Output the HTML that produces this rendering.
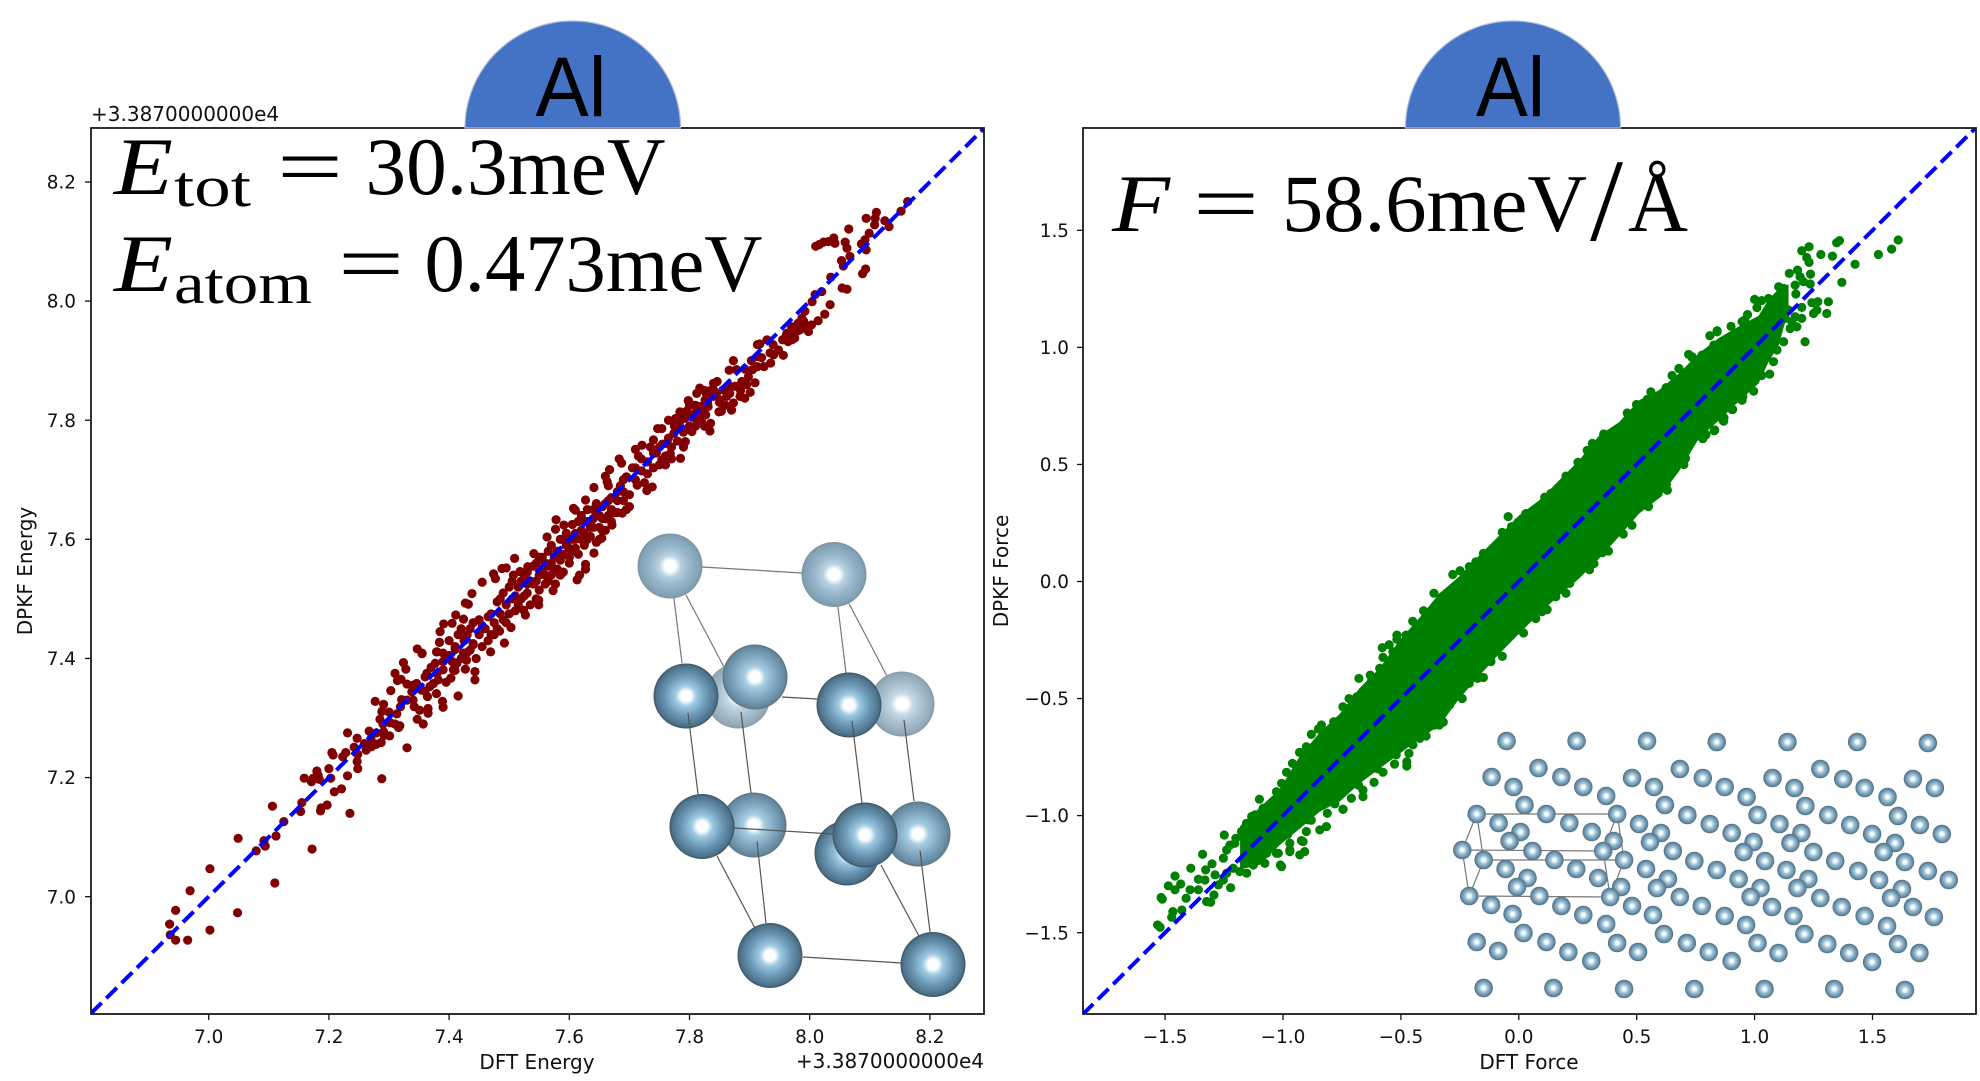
<!DOCTYPE html>
<html lang="en">
<head>
<meta charset="utf-8">
<title>Al DPKF vs DFT parity plots</title>
<style>
html,body{margin:0;padding:0;background:#fff}
svg{display:block}
.tick{font-family:"DejaVu Sans","Liberation Sans",sans-serif;font-size:18.4px;fill:#111}
.label{font-family:"DejaVu Sans","Liberation Sans",sans-serif;font-size:20px;fill:#111}
.offset{font-family:"DejaVu Sans","Liberation Sans",sans-serif;font-size:20px;fill:#111}
.math{font-family:"Liberation Serif",serif;fill:#000}
.al{font-family:"Liberation Sans",sans-serif;font-size:84px;fill:#000}
</style>
</head>
<body>
<svg id="figure" xmlns="http://www.w3.org/2000/svg" width="1980" height="1081" viewBox="0 0 1980 1081">
<defs>
<radialGradient id="atom-lightest"><stop offset="0" stop-color="#fff"/><stop offset=".17" stop-color="#fff"/><stop offset=".34" stop-color="#c6d9e4"/><stop offset=".62" stop-color="#a8c0cf"/><stop offset=".93" stop-color="#92a8b6"/><stop offset="1" stop-color="#87979f"/></radialGradient>
<radialGradient id="atom-light"><stop offset="0" stop-color="#fff"/><stop offset=".17" stop-color="#fff"/><stop offset=".34" stop-color="#b6d1e1"/><stop offset=".62" stop-color="#96b5c9"/><stop offset=".93" stop-color="#80a0b4"/><stop offset="1" stop-color="#7b919e"/></radialGradient>
<radialGradient id="atom-mid"><stop offset="0" stop-color="#fff"/><stop offset=".16" stop-color="#fff"/><stop offset=".32" stop-color="#a8cde1"/><stop offset=".62" stop-color="#83aac3"/><stop offset=".93" stop-color="#64879d"/><stop offset="1" stop-color="#5a7282"/></radialGradient>
<radialGradient id="atom-dark"><stop offset="0" stop-color="#fff"/><stop offset=".16" stop-color="#fff"/><stop offset=".32" stop-color="#9ecae2"/><stop offset=".62" stop-color="#6c9ab8"/><stop offset=".93" stop-color="#4c7188"/><stop offset="1" stop-color="#3a5160"/></radialGradient>
<radialGradient id="atom-small"><stop offset="0" stop-color="#fff"/><stop offset=".18" stop-color="#f6feff"/><stop offset=".38" stop-color="#a9cde0"/><stop offset=".72" stop-color="#7499b2"/><stop offset="1" stop-color="#4f6f83"/></radialGradient>
<clipPath id="clip-energy"><rect x="91" y="128" width="893" height="886"/></clipPath>
<clipPath id="clip-force"><rect x="1083" y="128" width="893" height="886"/></clipPath>
</defs>

<g id="energy-marks" clip-path="url(#clip-energy)"></g>
<g id="force-marks" clip-path="url(#clip-force)"></g>
<g id="axes-layer"></g>

<g>
<g stroke="#777" stroke-width="1.2" fill="none">
<path d="M702 567L802 573M672 583L682 663M686 595L724 667M836 591L846 673M849 603.5L888 678"/>
</g>
<circle cx="670" cy="566" r="32.5" fill="url(#atom-light)"/>
<circle cx="834" cy="574.5" r="32.5" fill="url(#atom-light)"/>
<circle cx="738" cy="696" r="32.5" fill="url(#atom-lightest)"/>
<circle cx="902" cy="704" r="32.5" fill="url(#atom-lightest)"/>
<circle cx="686" cy="696" r="32.5" fill="url(#atom-dark)"/>
<circle cx="755" cy="677" r="32.5" fill="url(#atom-mid)"/>
<circle cx="849" cy="705" r="32.5" fill="url(#atom-dark)"/>
<circle cx="754" cy="825" r="32.5" fill="url(#atom-mid)"/>
<circle cx="918" cy="834" r="32.5" fill="url(#atom-mid)"/>
<circle cx="847" cy="853" r="32.5" fill="url(#atom-dark)"/>
<g stroke="#555" stroke-width="1.2" fill="none">
<path d="M688 713L698 794M741 712L751 793M782 697L817 699M852 721L862 803M904 720L914 801M734 828L833 834M757 841.5L766 923M717 856L756 930M881 865L920 938M920 850.5L930 932M803 957L902 963"/>
</g>
<circle cx="702" cy="826.5" r="32.5" fill="url(#atom-dark)"/>
<circle cx="865" cy="835" r="32.5" fill="url(#atom-dark)"/>
<circle cx="770" cy="955.5" r="32.5" fill="url(#atom-dark)"/>
<circle cx="933" cy="964.5" r="32.5" fill="url(#atom-dark)"/>
</g>

<g transform="translate(5.6 0) scale(.996 1)">
<g stroke="#777" stroke-width="1.2" fill="none">
<path d="M1477 814L1618 814M1462.5 850L1604 851M1484 860L1625 860M1469.5 896L1611 897M1477 814L1462.5 850M1477 814L1484 860M1462.5 850L1469.5 896M1484 860L1469.5 896M1618 814L1604 851M1618 814L1625 860M1604 851L1611 897M1625 860L1611 897"/>
</g>
<g fill="url(#atom-small)">
<circle cx="1507" cy="741" r="9.3"/><circle cx="1577.3" cy="741" r="9.3"/><circle cx="1648" cy="741" r="9.3"/><circle cx="1718" cy="742" r="9.3"/><circle cx="1789" cy="742" r="9.3"/><circle cx="1859" cy="742" r="9.3"/><circle cx="1930" cy="743" r="9.3"/>
<circle cx="1484" cy="988" r="9.3"/><circle cx="1554" cy="988" r="9.3"/><circle cx="1625" cy="989" r="9.3"/><circle cx="1695.5" cy="989" r="9.3"/><circle cx="1766" cy="989" r="9.3"/><circle cx="1836" cy="989" r="9.3"/><circle cx="1907" cy="990" r="9.3"/>
<circle cx="1492" cy="777" r="9.3"/><circle cx="1514" cy="787" r="9.3"/><circle cx="1539" cy="768" r="9.3"/><circle cx="1562" cy="777" r="9.3"/><circle cx="1584" cy="787" r="9.3"/><circle cx="1607" cy="796" r="9.3"/><circle cx="1525" cy="805" r="9.3"/><circle cx="1633" cy="778" r="9.3"/><circle cx="1655" cy="787" r="9.3"/><circle cx="1681" cy="769" r="9.3"/><circle cx="1704" cy="778" r="9.3"/><circle cx="1726" cy="787" r="9.3"/><circle cx="1748" cy="797" r="9.3"/><circle cx="1774" cy="778" r="9.3"/><circle cx="1796" cy="788" r="9.3"/><circle cx="1822" cy="769" r="9.3"/><circle cx="1845" cy="779" r="9.3"/><circle cx="1866.5" cy="788" r="9.3"/><circle cx="1889.5" cy="797" r="9.3"/><circle cx="1915" cy="779" r="9.3"/><circle cx="1937" cy="788" r="9.3"/>
<circle cx="1521" cy="832" r="9.3"/><circle cx="1614.5" cy="841" r="9.3"/><circle cx="1662" cy="833" r="9.3"/><circle cx="1755" cy="842" r="9.3"/><circle cx="1803" cy="833" r="9.3"/><circle cx="1897" cy="843" r="9.3"/>
<circle cx="1477" cy="814" r="9.3"/><circle cx="1499" cy="823" r="9.3"/><circle cx="1547" cy="814" r="9.3"/><circle cx="1570" cy="823" r="9.3"/><circle cx="1592.5" cy="832" r="9.3"/><circle cx="1618" cy="814" r="9.3"/><circle cx="1640" cy="824" r="9.3"/><circle cx="1666" cy="805" r="9.3"/><circle cx="1688.5" cy="815" r="9.3"/><circle cx="1711" cy="824" r="9.3"/><circle cx="1733" cy="833" r="9.3"/><circle cx="1759" cy="815" r="9.3"/><circle cx="1781" cy="824" r="9.3"/><circle cx="1807" cy="806" r="9.3"/><circle cx="1830" cy="815" r="9.3"/><circle cx="1852" cy="825" r="9.3"/><circle cx="1874" cy="834" r="9.3"/><circle cx="1900" cy="816" r="9.3"/><circle cx="1922" cy="825" r="9.3"/><circle cx="1944" cy="834" r="9.3"/>
<circle cx="1510" cy="841" r="9.3"/><circle cx="1462.5" cy="850" r="9.3"/><circle cx="1533" cy="851" r="9.3"/><circle cx="1604" cy="851" r="9.3"/><circle cx="1651" cy="842" r="9.3"/><circle cx="1674" cy="851" r="9.3"/><circle cx="1745" cy="852" r="9.3"/><circle cx="1792" cy="843" r="9.3"/><circle cx="1815" cy="852" r="9.3"/><circle cx="1885.5" cy="852" r="9.3"/>
<circle cx="1484" cy="860" r="9.3"/><circle cx="1555" cy="860" r="9.3"/><circle cx="1625" cy="860" r="9.3"/><circle cx="1695.5" cy="861" r="9.3"/><circle cx="1766.5" cy="861" r="9.3"/><circle cx="1837" cy="861" r="9.3"/><circle cx="1907" cy="862" r="9.3"/>
<circle cx="1506" cy="869" r="9.3"/><circle cx="1577" cy="869" r="9.3"/><circle cx="1599" cy="878" r="9.3"/><circle cx="1647" cy="869" r="9.3"/><circle cx="1718" cy="870" r="9.3"/><circle cx="1740" cy="879" r="9.3"/><circle cx="1788" cy="870" r="9.3"/><circle cx="1860" cy="871" r="9.3"/><circle cx="1881" cy="880" r="9.3"/><circle cx="1930" cy="871" r="9.3"/><circle cx="1951" cy="880" r="9.3"/>
<circle cx="1528" cy="878" r="9.3"/><circle cx="1622" cy="887" r="9.3"/><circle cx="1669" cy="879" r="9.3"/><circle cx="1762" cy="888" r="9.3"/><circle cx="1810" cy="879" r="9.3"/><circle cx="1904" cy="889" r="9.3"/>
<circle cx="1517.5" cy="887" r="9.3"/><circle cx="1469.5" cy="896" r="9.3"/><circle cx="1540" cy="896" r="9.3"/><circle cx="1611" cy="897" r="9.3"/><circle cx="1658" cy="888" r="9.3"/><circle cx="1681" cy="897" r="9.3"/><circle cx="1752" cy="897" r="9.3"/><circle cx="1799" cy="888" r="9.3"/><circle cx="1822" cy="898" r="9.3"/><circle cx="1893" cy="898" r="9.3"/>
<circle cx="1491.5" cy="905" r="9.3"/><circle cx="1513" cy="914" r="9.3"/><circle cx="1562" cy="906" r="9.3"/><circle cx="1584" cy="915" r="9.3"/><circle cx="1607" cy="924" r="9.3"/><circle cx="1633" cy="906" r="9.3"/><circle cx="1654" cy="915" r="9.3"/><circle cx="1703" cy="906" r="9.3"/><circle cx="1726" cy="916" r="9.3"/><circle cx="1747.5" cy="925" r="9.3"/><circle cx="1773.5" cy="907" r="9.3"/><circle cx="1795" cy="916" r="9.3"/><circle cx="1843.5" cy="907" r="9.3"/><circle cx="1866.5" cy="916" r="9.3"/><circle cx="1889" cy="926" r="9.3"/><circle cx="1915" cy="907" r="9.3"/><circle cx="1936" cy="917" r="9.3"/>
<circle cx="1524" cy="933" r="9.3"/><circle cx="1477" cy="942" r="9.3"/><circle cx="1498.5" cy="951" r="9.3"/><circle cx="1547" cy="942" r="9.3"/><circle cx="1569" cy="952" r="9.3"/><circle cx="1592" cy="961" r="9.3"/><circle cx="1618" cy="943" r="9.3"/><circle cx="1639" cy="952" r="9.3"/><circle cx="1665" cy="934" r="9.3"/><circle cx="1688" cy="943" r="9.3"/><circle cx="1710" cy="952" r="9.3"/><circle cx="1733" cy="961" r="9.3"/><circle cx="1759" cy="943" r="9.3"/><circle cx="1780" cy="953" r="9.3"/><circle cx="1806" cy="934" r="9.3"/><circle cx="1829" cy="944" r="9.3"/><circle cx="1851" cy="953" r="9.3"/><circle cx="1874" cy="962" r="9.3"/><circle cx="1900" cy="944" r="9.3"/><circle cx="1921.5" cy="953" r="9.3"/>
</g>
</g>

<g>
<path d="M465 128A107.75 107 0 0 1 680.5 128Z" fill="#4472c4" stroke="#aab9d9" stroke-width="1.2"/>
<text class="al" x="535.5" y="116" textLength="71" lengthAdjust="spacingAndGlyphs">Al</text>
</g>
<g>
<path d="M1405.5 128A107.5 107 0 0 1 1620.5 128Z" fill="#4472c4" stroke="#aab9d9" stroke-width="1.2"/>
<text class="al" x="1476" y="116" textLength="69" lengthAdjust="spacingAndGlyphs">Al</text>
</g>

<g class="math">
<text x="114" y="194" font-size="82" font-style="italic" textLength="59" lengthAdjust="spacingAndGlyphs">E</text>
<text x="174" y="206" font-size="58" textLength="77" lengthAdjust="spacingAndGlyphs">tot</text>
<text x="277" y="194" font-size="82" textLength="66" lengthAdjust="spacingAndGlyphs">=</text>
<text x="365.5" y="194" font-size="82" textLength="300" lengthAdjust="spacingAndGlyphs">30.3meV</text>
<text x="114" y="291" font-size="82" font-style="italic" textLength="59" lengthAdjust="spacingAndGlyphs">E</text>
<text x="174" y="303" font-size="58" textLength="138" lengthAdjust="spacingAndGlyphs">atom</text>
<text x="338" y="291" font-size="82" textLength="66" lengthAdjust="spacingAndGlyphs">=</text>
<text x="424.5" y="291" font-size="82" textLength="338" lengthAdjust="spacingAndGlyphs">0.473meV</text>
</g>
<g class="math">
<text x="1112" y="231" font-size="82" font-style="italic" textLength="58" lengthAdjust="spacingAndGlyphs">F</text>
<text x="1193" y="231" font-size="82" textLength="66" lengthAdjust="spacingAndGlyphs">=</text>
<text x="1282" y="231" font-size="82" textLength="305" lengthAdjust="spacingAndGlyphs">58.6meV</text>
<text x="1590" y="240" font-size="118" textLength="33" lengthAdjust="spacingAndGlyphs">/</text>
<text x="1628" y="231" font-size="86" textLength="60" lengthAdjust="spacingAndGlyphs">Å</text>
</g>
</svg>

<script>
const energyLimits = [6.804, 8.29];
const energyTicks = [7.0, 7.2, 7.4, 7.6, 7.8, 8.0, 8.2];
const energyTickLabels = ["7.0", "7.2", "7.4", "7.6", "7.8", "8.0", "8.2"];
const energyPoints = [
[6.945,6.977],[6.935,6.954],[6.936,6.936],[6.945,6.927],[6.965,6.927],[7.002,6.944],[7.048,6.973],
[6.969,7.010],[7.002,7.047],[7.110,7.023],[7.049,7.098],[7.079,7.077],[7.092,7.094],[7.094,7.085],[7.112,7.102],[7.125,7.126],[7.172,7.080],[7.106,7.152],[7.153,7.143],[7.155,7.158],[7.186,7.144],[7.187,7.149],[7.197,7.154],[7.235,7.140],[7.209,7.176],[7.221,7.181],[7.231,7.203],[7.288,7.198],[7.159,7.199],[7.171,7.193],[7.174,7.199],[7.180,7.211],[7.184,7.197],[7.182,7.204],[7.203,7.199],[7.200,7.215],[7.205,7.242],[7.207,7.238],[7.223,7.235],[7.228,7.242],[7.248,7.215],[7.247,7.227],[7.248,7.239],[7.242,7.251],[7.231,7.275],[7.247,7.266],[7.262,7.246],[7.271,7.252],[7.287,7.259],[7.259,7.257],[7.279,7.256],[7.330,7.250],[7.267,7.278],[7.279,7.275],[7.291,7.277],[7.301,7.270],[7.292,7.271],[7.316,7.284],[7.318,7.287],[7.285,7.298],[7.288,7.311],[7.302,7.292],[7.313,7.307],[7.277,7.328],[7.291,7.323],[7.303,7.346],[7.321,7.331],[7.319,7.319],[7.342,7.319],[7.351,7.313],[7.365,7.316],[7.365,7.308],[7.347,7.298],[7.357,7.290],[7.390,7.318],[7.389,7.328],[7.415,7.337],[7.379,7.341],[7.364,7.336],[7.340,7.330],[7.338,7.344],[7.354,7.347],[7.346,7.358],[7.360,7.369],[7.368,7.353],[7.382,7.364],[7.310,7.375],[7.314,7.363],[7.320,7.365],[7.330,7.357],[7.324,7.393],[7.328,7.382],[7.377,7.392],[7.390,7.381],[7.403,7.367],[7.407,7.381],[7.427,7.382],[7.443,7.364],[7.443,7.378],[7.347,7.416],[7.355,7.409],[7.379,7.411],[7.390,7.409],[7.384,7.427],[7.413,7.392],[7.429,7.397],[7.410,7.420],[7.435,7.414],[7.424,7.409],[7.440,7.423],[7.363,7.375],[7.374,7.358],
[7.355,7.408],[7.391,7.458],[7.385,7.445],[7.405,7.459],[7.411,7.473],[7.424,7.466],[7.384,7.427],[7.380,7.411],[7.469,7.411],[7.492,7.426],[7.484,7.446],[7.503,7.452],[7.455,7.528],[7.438,7.509],[7.427,7.493],[7.432,7.491],[7.474,7.542],[7.477,7.534],[7.488,7.551],[7.495,7.552],[7.509,7.568],[7.531,7.554],[7.541,7.576],[7.518,7.546],[7.507,7.540],[7.549,7.490],[7.549,7.498],[7.527,7.473],[7.524,7.481],[7.573,7.514],[7.577,7.525],[7.613,7.532],[7.617,7.540],[7.627,7.558],[7.627,7.550],[7.641,7.577],[7.654,7.602],[7.563,7.604],[7.577,7.617],[7.578,7.633],[7.591,7.624],[7.607,7.652],[7.610,7.649],[7.627,7.666],[7.641,7.687],[7.660,7.706],[7.663,7.697],[7.667,7.717],[7.683,7.735],[7.687,7.728],[7.729,7.682],[7.738,7.688],[7.713,7.691],[7.688,7.644],[7.671,7.624],[7.710,7.751],[7.721,7.758],[7.740,7.767],[7.747,7.786],[7.754,7.786],[7.765,7.800],[7.777,7.803],[7.793,7.803],[7.784,7.814],[7.785,7.736],[7.793,7.764],[7.768,7.744],[7.754,7.733],[7.763,7.761],[7.834,7.782],[7.835,7.795],[7.799,7.831],[7.849,7.814],[7.774,7.778],[7.804,7.781],[7.813,7.795],[7.827,7.809],
[7.40,7.43],[7.405,7.395],[7.41,7.415],[7.415,7.44],[7.42,7.40],[7.425,7.43],[7.43,7.41],[7.435,7.45],[7.44,7.425],[7.445,7.40],[7.45,7.44],[7.45,7.465],[7.455,7.42],[7.46,7.45],[7.465,7.43],[7.47,7.475],[7.47,7.44],[7.475,7.46],[7.48,7.495],[7.48,7.45],[7.485,7.475],[7.49,7.51],[7.49,7.465],[7.495,7.49],[7.50,7.52],[7.50,7.475],[7.505,7.50],[7.51,7.48],[7.515,7.52],[7.52,7.50],[7.525,7.535],[7.53,7.51],[7.535,7.49],[7.54,7.525],[7.54,7.555],[7.545,7.50],[7.55,7.54],[7.555,7.57],[7.56,7.525],[7.565,7.555],[7.57,7.59],[7.57,7.54],[7.575,7.57],[7.58,7.55],[7.585,7.60],[7.59,7.575],[7.59,7.545],[7.595,7.61],[7.60,7.585],[7.60,7.56],[7.605,7.625],[7.61,7.60],[7.615,7.575],[7.62,7.64],[7.62,7.615],[7.625,7.59],[7.63,7.63],[7.635,7.605],[7.64,7.65],[7.64,7.62],[7.645,7.595],[7.65,7.64],[7.655,7.615],[7.66,7.66],[7.66,7.635],[7.665,7.69],[7.67,7.65],[7.675,7.67],[7.68,7.645],[7.685,7.69],[7.69,7.665],[7.695,7.705],[7.70,7.675],[7.705,7.72],[7.71,7.70],[7.715,7.74],[7.72,7.715],[7.725,7.695],[7.73,7.73],[7.735,7.755],[7.74,7.72],[7.745,7.745],[7.75,7.725],[7.755,7.76],[7.76,7.74],[7.765,7.77],[7.77,7.755],[7.775,7.79],[7.78,7.765],[7.785,7.80],[7.79,7.78],[7.795,7.815],[7.80,7.79],[7.805,7.805],[7.81,7.825],[7.815,7.80],[7.82,7.82],[7.825,7.79],
[7.52,7.53],[7.53,7.545],[7.535,7.53],[7.545,7.53],[7.55,7.515],[7.555,7.545],[7.56,7.56],[7.565,7.53],[7.575,7.55],[7.58,7.58],[7.585,7.565],[7.595,7.59],[7.605,7.58],[7.61,7.61],[7.615,7.63],[7.625,7.61],[7.63,7.60],[7.64,7.635],[7.65,7.62],[7.655,7.655],[7.665,7.64],[7.67,7.67],[7.68,7.665],[7.69,7.68],[7.70,7.655],
[7.43,7.44],[7.44,7.46],[7.455,7.455],[7.465,7.47],[7.475,7.44],[7.485,7.50],[7.495,7.46],[7.505,7.53],[7.51,7.505],[7.515,7.49],[7.525,7.505],[7.53,7.525],[7.545,7.56],[7.55,7.57],[7.56,7.54],[7.565,7.58],[7.57,7.56],[7.58,7.57],[7.585,7.54],[7.59,7.60],[7.60,7.57],[7.605,7.60],[7.61,7.585],[7.62,7.60],[7.625,7.63],[7.63,7.65],[7.635,7.62],[7.645,7.66],[7.65,7.60],[7.655,7.635],[7.66,7.615],[7.665,7.665],[7.67,7.63],[7.675,7.645],[7.68,7.68],[7.69,7.70],[7.695,7.65],[7.71,7.72],[7.72,7.735],[7.73,7.71],[7.74,7.745],[7.75,7.755],[7.76,7.725],[7.77,7.735],[7.78,7.79],[7.79,7.755],[7.80,7.825],[7.81,7.79],[7.82,7.80],[7.83,7.83],[7.35,7.35],[7.36,7.345],[7.37,7.385],[7.38,7.375],[7.39,7.395],[7.40,7.405],[7.395,7.36],[7.42,7.45],[7.41,7.38],[7.33,7.33],[7.34,7.355],[7.30,7.31],[7.31,7.29],[7.29,7.29],[7.27,7.265],[7.885,7.85],[7.895,7.86],[7.905,7.885],[7.92,7.905],[7.94,7.91],[7.955,7.935],[7.97,7.935],[7.98,7.95],[7.99,7.955],[7.96,7.94],[7.85,7.83],[7.86,7.825],[7.845,7.845],[7.835,7.85],[7.825,7.85],
[8.163,8.167],[8.152,8.151],[8.111,8.149],[8.094,8.139],[8.109,8.139],[8.108,8.128],[8.125,8.135],[8.132,8.125],[8.065,8.121],[8.099,8.114],[8.092,8.103],[8.086,8.096],[8.094,8.086],[8.040,8.106],[8.031,8.100],[8.023,8.099],[8.016,8.095],[8.010,8.092],[8.042,8.097],[8.059,8.099],[8.062,8.089],[8.067,8.075],[8.053,8.068],[8.056,8.059],[8.093,8.054],[8.088,8.046],[8.035,8.040],[8.054,8.022],[8.062,8.020],[8.020,8.016],[8.009,8.011],[8.004,7.999],[8.034,7.994],[8.025,7.978],[7.992,7.983],[8.014,7.967],[8.003,7.960],[7.990,7.966],[7.981,7.963],[7.998,7.949],[7.970,7.957],[7.973,7.949],[7.962,7.946],[7.975,7.938],[7.964,7.932],[7.987,7.971],[7.984,7.952],[7.956,7.909],[7.939,7.927],[7.929,7.935],[7.913,7.927],[7.917,7.928],[7.948,7.918],[7.934,7.913],[7.935,7.896],[7.924,7.890],[7.913,7.890],[7.914,7.907],[7.903,7.900],[7.873,7.900],[7.866,7.884],[7.892,7.886],[7.878,7.885],[7.898,7.873],[7.909,7.863],[7.887,7.865],[7.876,7.857],[7.867,7.845],[7.901,7.847],[7.892,7.837],[7.884,7.840],[7.873,7.829],[7.870,7.817],[7.853,7.815],[7.840,7.862],[7.846,7.865],[7.817,7.854],[7.812,7.845],[7.798,7.833],[7.856,7.851],[7.840,7.840],[7.826,7.834],[7.851,7.834],[7.862,7.840],[7.831,7.823],[7.817,7.823],[7.823,7.809],[7.809,7.812],[7.790,7.803],[7.840,7.851],[7.828,7.845],[7.867,7.857]
];

const forceLimits = [-1.85, 1.94];
const forceTicks = [-1.5, -1.0, -0.5, 0.0, 0.5, 1.0, 1.5];
const forceTickLabels = ["\u22121.5", "\u22121.0", "\u22120.5", "0.0", "0.5", "1.0", "1.5"];
const forceBandDft = [-1.182,-1.098,-1.013,-0.928,-0.844,-0.759,-0.675,-0.590,-0.505,-0.421,-0.336,-0.252,-0.167,-0.082,0.002,0.087,0.171,0.256,0.341,0.425,0.510,0.594,0.679,0.764,0.848,0.933,1.017,1.060,1.102,1.144];
const forceBandUpper = [-1.045,-0.965,-0.885,-0.745,-0.645,-0.565,-0.455,-0.37,-0.25,-0.155,-0.05,0.022,0.112,0.197,0.283,0.347,0.432,0.518,0.624,0.68,0.774,0.817,0.889,0.975,1.04,1.09,1.135,1.205,1.25,1.27];
const forceBandLower = [-1.23,-1.21,-1.125,-1.055,-0.983,-0.94,-0.863,-0.799,-0.735,-0.671,-0.615,-0.50,-0.402,-0.308,-0.222,-0.137,-0.06,0.013,0.098,0.192,0.29,0.355,0.47,0.611,0.688,0.769,0.846,0.94,1.008,1.16];
const forcePoints = [
[-1.517,-1.350],[-1.512,-1.357],[-1.532,-1.467],[-1.521,-1.477],[-1.486,-1.300],[-1.458,-1.258],[-1.458,-1.317],[-1.434,-1.292],[-1.391,-1.225],[-1.341,-1.165],[-1.301,-1.206],[-1.249,-1.083],[-1.467,-1.410],[-1.472,-1.434],[-1.429,-1.403],[-1.411,-1.353],[-1.394,-1.317],[-1.359,-1.272],[-1.328,-1.232],[-1.359,-1.317],[-1.324,-1.367],[-1.307,-1.370],[-1.293,-1.339],[-1.331,-1.275],[-1.288,-1.253],[-1.274,-1.296],[-1.253,-1.275],[-1.222,-1.308],[-1.239,-1.246],[-1.253,-1.182],[-1.239,-1.147],[-1.211,-1.225],[-1.183,-1.239],[-1.154,-1.246],[-1.126,-1.211],[-1.077,-1.204],[-1.011,-1.211],[-1.070,-1.161],[-1.020,-1.161],[-0.971,-1.154],[-0.929,-1.168],[-0.908,-1.154],[-0.844,-1.061],[-0.816,-1.047],[-0.812,-0.990],[-0.745,-0.973],[-1.168,-1.189],[-1.204,-1.118],[-1.176,-1.068],[-1.133,-1.004],[-1.084,-0.969],[-0.915,-1.111],[-0.971,-1.118],[-1.042,-1.118],[-1.098,-1.132],[-1.126,-1.175],[-0.901,-1.068],[-0.894,-1.018],
[-1.006,-1.218],[-1.028,-1.161],[-0.971,-1.147],[-0.922,-1.107],[-0.746,-0.973],[-0.710,-0.926],[-0.661,-0.891],[-0.661,-0.919],[-0.614,-0.858],[-0.576,-0.815],[-0.527,-0.780],[-0.475,-0.788],[-0.475,-0.770],[-0.466,-0.734],[-0.449,-0.698],[-0.393,-0.660],[-0.499,-0.706],[-0.337,-0.613],
[-1.200,-1.097],[-1.225,-1.126],[-1.006,-0.862],[-0.985,-0.815],[-0.960,-0.777],[-0.901,-0.706],[-0.880,-0.653],[-0.837,-0.613],[-0.785,-0.599],[-0.746,-0.535],[-0.678,-0.414],[-0.686,-0.492],[-0.626,-0.428],[-0.590,-0.371],[-0.576,-0.324],[-0.579,-0.283],[-0.534,-0.300],[-0.517,-0.229],[-0.517,-0.247],[-0.478,-0.229],[-0.428,-0.186],[-0.404,-0.125],[-1.028,-0.898],[-1.084,-0.969],[-1.119,-0.997],[-1.155,-1.033],
[-0.118,-0.342],[-0.210,-0.435],[-0.175,-0.414],[-0.294,-0.528],[-0.259,-0.478],[-0.358,-0.613],
[-0.325,-0.065],[-0.249,0.046],[-0.210,0.063],[-0.182,0.084],[-0.111,0.134],[-0.045,0.277],[-0.031,0.234],[-0.001,0.255],[0.072,0.305],[0.136,0.376],[0.164,0.398],[0.227,0.459],[0.251,0.509],[0.312,0.590],[0.397,0.635],[0.439,0.661],[0.499,0.756],[0.545,0.778],[0.594,0.789],[0.626,0.828],[0.667,0.853],[0.679,0.910],[0.735,0.957],[0.784,0.967],[0.841,1.067],
[0.072,-0.158],[0.098,-0.129],[0.157,-0.065],[0.216,-0.008],[0.319,0.077],[0.354,0.123],[0.443,0.203],[0.467,0.262],[0.590,0.376],[0.626,0.415],[0.707,0.526],[0.794,0.628],[0.831,0.647],[0.866,0.687],[0.904,0.735],[0.946,0.775],
[-1.10,-0.93],[-0.93,-0.73],[-0.85,-0.63],[-0.72,-0.50],[-0.63,-0.40],[-0.55,-0.27],[-0.45,-0.17],[-0.36,-0.05],[-0.28,0.03],[-0.15,0.12],[-0.07,0.21],[0.03,0.29],[0.11,0.36],[0.20,0.45],[0.29,0.56],[0.36,0.63],[0.46,0.72],[0.56,0.81],[0.65,0.88],[0.72,0.97],[0.81,1.05],[0.90,1.09],[0.97,1.14],[1.03,1.20],
[-0.98,-1.08],[-0.88,-1.02],[-0.78,-0.95],[-0.68,-0.87],[-0.60,-0.80],[-0.52,-0.74],[-0.42,-0.67],[-0.32,-0.60],[-0.24,-0.50],[-0.15,-0.41],[-0.07,-0.32],[0.02,-0.22],[0.12,-0.12],[0.20,-0.05],[0.30,0.05],[0.38,0.13],[0.48,0.24],[0.55,0.32],[0.63,0.39],[0.70,0.50],[0.78,0.61],[0.87,0.70],[0.95,0.79],[1.03,0.88],
[1.360,1.456],[1.348,1.447],[1.231,1.430],[1.200,1.413],[1.281,1.397],[1.330,1.390],[1.221,1.384],[1.231,1.363],[1.147,1.316],[1.182,1.330],[1.193,1.302],[1.237,1.313],[1.426,1.355],[1.525,1.397],[1.581,1.420],[1.609,1.459],[1.370,1.278],[1.172,1.266],[1.207,1.281],[1.236,1.271],[1.175,1.228],[1.123,1.252],[1.102,1.259],[1.059,1.209],[1.000,1.205],[1.010,1.170],[0.958,1.117],[0.947,1.110],[0.841,1.071],[0.735,0.960],[0.679,0.910],[0.625,0.828],[0.665,0.853],[1.214,1.024],[1.080,0.939],[1.064,0.886],[0.996,0.813],[0.947,0.775],[0.907,0.735],[0.869,0.685],[0.829,0.644],[0.791,0.625],[1.313,1.195],[1.306,1.145],[1.268,1.195],[1.243,1.191],[1.250,1.145],[1.264,1.159],[1.200,1.171],[1.200,1.124],[1.172,1.131],[1.179,1.088],[1.151,1.081],[1.123,1.024],[1.095,0.989],[1.102,1.088],[1.144,1.160],[1.080,1.102],[1.130,1.124],[1.158,1.110],[1.088,1.160],[1.115,1.202],[1.066,1.145],[1.017,1.103],[0.975,1.074],[0.925,1.060],[0.883,1.031],[0.827,1.010],[0.777,0.967]
];

const energyXLabel = "DFT Energy";
const energyYLabel = "DPKF Energy";
const forceXLabel = "DFT Force";
const forceYLabel = "DPKF Force";
const energyOffsetLabel = "+3.3870000000e4";

const NS = "http://www.w3.org/2000/svg";
function energyX(v) { return 208.7 + (v - 7) * 601; }
function energyY(v) { return 896.7 - (v - 7) * 595.6; }
function forceX(v) { return 1518.8 + v * 235.8; }
function forceY(v) { return 581.5 - v * 234.1; }

function make(parent, tag, attrs, text) {
  const el = document.createElementNS(NS, tag);
  for (const k in attrs) el.setAttribute(k, attrs[k]);
  if (text !== undefined) el.textContent = text;
  parent.appendChild(el);
  return el;
}

const energyMarks = document.getElementById("energy-marks");
const forceMarks = document.getElementById("force-marks");
const axesLayer = document.getElementById("axes-layer");

energyPoints.forEach(function (p) {
  const el = make(energyMarks, "circle", { cx: energyX(p[0]), cy: energyY(p[1]), r: 4.6, fill: "#800000" });
  
  
});
const energyLine = make(energyMarks, "line", {
  x1: energyX(energyLimits[0]), y1: energyY(energyLimits[0]),
  x2: energyX(energyLimits[1]), y2: energyY(energyLimits[1]),
  stroke: "#0000ff", "stroke-width": 4, "stroke-dasharray": "15 6.6"
});



const upperEdge = forceBandDft.map(function (d, i) { return forceX(d) + "," + forceY(forceBandUpper[i]); });
const lowerEdge = forceBandDft.map(function (d, i) { return forceX(d) + "," + forceY(forceBandLower[i]); }).reverse();
const forceBand = make(forceMarks, "polygon", { points: upperEdge.concat(lowerEdge).join(" "), fill: "#008000" });


forcePoints.forEach(function (p) {
  const el = make(forceMarks, "circle", { cx: forceX(p[0]), cy: forceY(p[1]), r: 4.6, fill: "#008000" });
  
  
});
const forceLine = make(forceMarks, "line", {
  x1: forceX(forceLimits[0]), y1: forceY(forceLimits[0]),
  x2: forceX(forceLimits[1]), y2: forceY(forceLimits[1]),
  stroke: "#0000ff", "stroke-width": 4, "stroke-dasharray": "15 6.6"
});



const energyFrame = make(axesLayer, "rect", { x: 91, y: 128, width: 893, height: 886, fill: "none", stroke: "#1a1a1a", "stroke-width": 1.8 });


const forceFrame = make(axesLayer, "rect", { x: 1083, y: 128, width: 893, height: 886, fill: "none", stroke: "#1a1a1a", "stroke-width": 1.8 });



energyTicks.forEach(function (t, i) {
  const xt = make(axesLayer, "line", { x1: energyX(t), x2: energyX(t), y1: 1014, y2: 1020, stroke: "#111", "stroke-width": 1.3 });
  
  
  const xl = make(axesLayer, "text", { x: energyX(t), y: 1043, "text-anchor": "middle", class: "tick" }, energyTickLabels[i]);
  
  
  const yt = make(axesLayer, "line", { x1: 85, x2: 91, y1: energyY(t), y2: energyY(t), stroke: "#111", "stroke-width": 1.3 });
  
  
  const yl = make(axesLayer, "text", { x: 76, y: energyY(t) + 6.6, "text-anchor": "end", class: "tick" }, energyTickLabels[i]);
  
  
});

forceTicks.forEach(function (t, i) {
  const xt = make(axesLayer, "line", { x1: forceX(t), x2: forceX(t), y1: 1014, y2: 1020, stroke: "#111", "stroke-width": 1.3 });
  
  
  const xl = make(axesLayer, "text", { x: forceX(t), y: 1043, "text-anchor": "middle", class: "tick" }, forceTickLabels[i]);
  
  
  const yt = make(axesLayer, "line", { x1: 1077, x2: 1083, y1: forceY(t), y2: forceY(t), stroke: "#111", "stroke-width": 1.3 });
  
  
  const yl = make(axesLayer, "text", { x: 1069, y: forceY(t) + 6.6, "text-anchor": "end", class: "tick" }, forceTickLabels[i]);
  
  
});

const eXTitle = make(axesLayer, "text", { x: 537, y: 1069, "text-anchor": "middle", class: "label" }, energyXLabel);


const eYTitle = make(axesLayer, "text", { x: 32, y: 571, "text-anchor": "middle", class: "label", transform: "rotate(-90 32 571)" }, energyYLabel);


const fXTitle = make(axesLayer, "text", { x: 1529, y: 1069, "text-anchor": "middle", class: "label" }, forceXLabel);


const fYTitle = make(axesLayer, "text", { x: 1008, y: 571, "text-anchor": "middle", class: "label", transform: "rotate(-90 1008 571)" }, forceYLabel);


const topOffset = make(axesLayer, "text", { x: 91, y: 121, class: "offset" }, energyOffsetLabel);


const bottomOffset = make(axesLayer, "text", { x: 984, y: 1068, "text-anchor": "end", class: "offset" }, energyOffsetLabel);


</script>
</body>
</html>
